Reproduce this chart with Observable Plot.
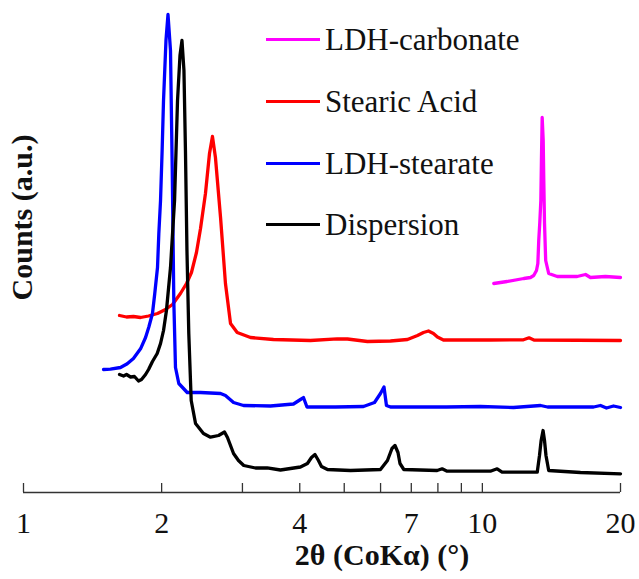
<!DOCTYPE html>
<html><head><meta charset="utf-8">
<script src="https://cdn.jsdelivr.net/npm/d3@7"></script>
<script src="https://cdn.jsdelivr.net/npm/@observablehq/plot@0.6"></script>
<style>
html,body{margin:0;padding:0;background:#fff;}
#wrap{position:relative;width:639px;height:579px;font-family:"Liberation Serif","Times New Roman",serif;}
#legend{position:absolute;left:266px;top:9px;}
.row{display:flex;align-items:center;height:61.7px;}
.sw{width:54px;height:3px;margin-right:5px;}
.lb{font-size:31px;color:#111;line-height:1;white-space:nowrap;font-family:"Liberation Serif","Times New Roman",serif;}
</style></head><body><div id="wrap"></div>
<script>
const seriesNames = ["LDH-carbonate", "Stearic Acid", "LDH-stearate", "Dispersion"];
const seriesColors = ["#ff00ff", "#ff0000", "#0000ff", "#000000"];

const carbonateX = [10.59, 11.32, 12.31, 12.73, 12.94, 13.12, 13.21, 13.27, 13.34, 13.41, 13.45, 13.50, 13.57, 13.61, 13.66, 13.74, 13.95, 14.56, 16.09, 16.78, 17.20, 18.54, 20];
const carbonateY = [209, 211, 214, 215, 217, 222, 229, 252, 270, 292, 332, 375, 352, 312, 269, 232, 219, 216, 216, 218, 215, 216, 215];

const stearicX = [1.619, 1.677, 1.736, 1.799, 1.873, 1.959, 2.039, 2.112, 2.198, 2.266, 2.323, 2.382, 2.431, 2.492, 2.543, 2.581, 2.620, 2.688, 2.755, 2.826, 2.922, 3.124, 3.505, 4.221, 4.826, 5.082, 5.618, 6.305, 6.867, 7.221, 7.441, 7.629, 7.823, 7.982, 8.225, 10.41, 12.29, 12.64, 12.95, 20];
const stearicY = [177, 175.5, 176, 175, 176.5, 179, 183, 188, 199, 209, 220, 240, 264, 299, 339, 356, 335, 275, 209, 169, 160, 155, 153, 152, 153.7, 153.5, 151, 151.5, 153, 157, 160, 161.5, 159, 155.5, 152.5, 152.5, 152.7, 154.7, 152.5, 152];

const stearateX = [1.494, 1.547, 1.627, 1.683, 1.736, 1.799, 1.845, 1.875, 1.910, 1.932, 1.959, 1.972, 1.989, 2.005, 2.019, 2.044, 2.065, 2.091, 2.109, 2.126, 2.144, 2.180, 2.274, 2.431, 2.688, 2.755, 2.869, 3.016, 3.453, 3.876, 4.014, 4.075, 4.147, 4.785, 5.507, 5.820, 5.997, 6.104, 6.180, 6.305, 8.353, 9.906, 11.69, 13.39, 13.87, 17.47, 18.09, 18.64, 19.31, 20];
const stearateY = [123, 123.3, 125, 128.7, 134, 143.7, 155, 165.3, 179, 198.7, 225, 258.7, 292, 342, 392, 452, 478, 442, 325, 192, 125, 109, 100, 100, 99, 97, 90, 87, 86.5, 88.5, 93, 95, 85.5, 85.5, 86, 90, 99, 105.5, 87, 85.5, 85.5, 86, 85, 87, 85.5, 85.5, 87, 84.5, 86.5, 85];

const dispersionX = [1.619, 1.652, 1.677, 1.711, 1.745, 1.781, 1.808, 1.845, 1.873, 1.910, 1.956, 1.989, 2.019, 2.049, 2.091, 2.134, 2.166, 2.193, 2.215, 2.237, 2.254, 2.271, 2.292, 2.320, 2.371, 2.467, 2.556, 2.661, 2.742, 2.783, 2.869, 2.941, 3.020, 3.203, 3.397, 3.631, 4.014, 4.157, 4.242, 4.317, 4.393, 4.460, 4.597, 5.160, 5.997, 6.211, 6.353, 6.450, 6.548, 6.614, 6.742, 7.969, 8.172, 8.379, 10.41, 10.77, 11.04, 13.17, 13.32, 13.43, 13.56, 13.66, 13.76, 13.95, 16.36, 20];
const dispersionY = [118, 116.5, 118, 115.5, 116, 111.5, 113, 118, 123, 131, 139, 149, 162, 182, 225, 292, 392, 437, 452, 422, 342, 242, 159, 92, 69, 59, 55.3, 57, 60.5, 55, 39, 32, 27, 24.5, 24.7, 22.5, 25.5, 29, 35, 38, 32, 26, 23, 22, 23, 32, 44, 47, 40, 29, 23, 22, 23.7, 21.3, 21.3, 23.7, 20.3, 20.3, 37, 52, 62, 52, 37, 22, 20, 18.7];

const xTickValues = [1, 2, 3, 4, 5, 6, 7, 8, 9, 10, 20];
const xTickLabels = [1, 2, 4, 7, 10, 20];
const xTitle = "2θ (CoKα) (°)";
const yTitle = "Counts (a.u.)";

const seriesData = [
  [carbonateX, carbonateY],
  [stearicX, stearicY],
  [stearateX, stearateY],
  [dispersionX, dispersionY]
];
const rows = [];
seriesData.forEach(([xs, ys], i) => {
  xs.forEach((x, j) => rows.push({series: seriesNames[i], x, y: ys[j]}));
});

const chart = Plot.plot({
  width: 639, height: 579,
  marginLeft: 23, marginRight: 19, marginTop: 12, marginBottom: 87,
  style: {fontFamily: "'Liberation Serif', 'Times New Roman', serif", background: "#fff", color: "#111", overflow: "visible"},
  x: {type: "log", domain: [1, 20], label: null},
  y: {domain: [0, 480], axis: null, label: null},
  color: {domain: seriesNames, range: seriesColors},
  marks: [
    Plot.ruleY([0], {stroke: "#333", strokeWidth: 1.3}),
    Plot.axisX({ticks: xTickValues, tickSize: -9, tickFormat: () => "", stroke: "#333", strokeWidth: 1.3, label: null}),
    Plot.axisX({ticks: xTickLabels, tickSize: 0, tickPadding: 19, fontSize: 30, fill: "#111", label: null, tickFormat: d => String(d)}),
    Plot.line(rows, {x: "x", y: "y", z: "series", stroke: "series", strokeWidth: 3.3, strokeLinejoin: "round"}),
    Plot.text([xTitle], {frameAnchor: "bottom", dx: 60, dy: 72, lineAnchor: "bottom", fontWeight: "bold", fontSize: 30, fill: "#111"}),
    Plot.text([yTitle], {frameAnchor: "left", textAnchor: "middle", rotate: -90, dx: -1, dy: -35, fontWeight: "bold", fontSize: 30, fill: "#111"})
  ]
});

const wrap = document.getElementById("wrap");
wrap.appendChild(chart);
const legend = document.createElement("div");
legend.id = "legend";
seriesNames.forEach((name, i) => {
  const row = document.createElement("div");
  row.className = "row";
  const sw = document.createElement("span");
  sw.className = "sw";
  sw.style.background = seriesColors[i];
  const lb = document.createElement("span");
  lb.className = "lb";
  lb.textContent = name;
  row.appendChild(sw);
  row.appendChild(lb);
  legend.appendChild(row);
});
wrap.appendChild(legend);
</script></body></html>
